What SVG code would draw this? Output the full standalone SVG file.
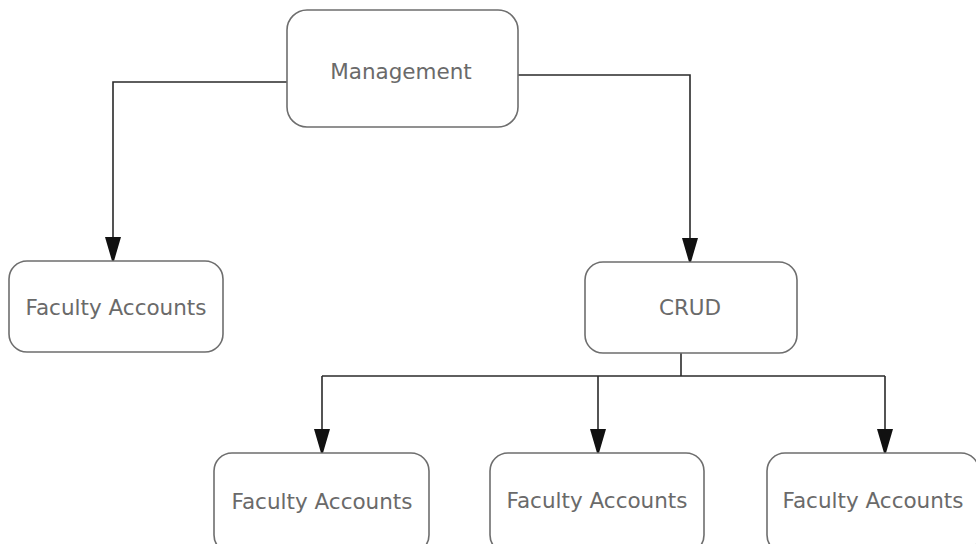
<svg xmlns="http://www.w3.org/2000/svg" width="976" height="544" viewBox="0 0 976 544">
  <defs>
    <style>
      .box { fill: #ffffff; stroke: #6e6e6e; stroke-width: 1.6; }
      .label { font-family: "DejaVu Sans", Verdana, sans-serif; font-size: 21.5px; fill: #6a6a6a; text-anchor: middle; dominant-baseline: central; }
      .wire { fill: none; stroke: #2a2a2a; stroke-width: 1.6; }
    </style>
    <!-- downward-pointing filled arrowhead, slightly blunt tip -->
    <marker id="down" viewBox="0 0 16 24" refX="8" refY="24" markerWidth="16" markerHeight="24" markerUnits="userSpaceOnUse" orient="0">
      <path d="M0,0 L16,0 L9,24 L7,24 Z" fill="#111111"/>
    </marker>
  </defs>
  <rect width="976" height="544" fill="#ffffff"/>

  <!-- connectors -->
  <g id="connectors">
    <path class="wire" d="M287,82 H113 V261" marker-end="url(#down)"/>
    <path class="wire" d="M518,75 H690 V262" marker-end="url(#down)"/>
    <path class="wire" d="M681,353 V376"/>
    <path class="wire" d="M322,376 H885"/>
    <path class="wire" d="M322,376 V453" marker-end="url(#down)"/>
    <path class="wire" d="M598,376 V453" marker-end="url(#down)"/>
    <path class="wire" d="M885,376 V453" marker-end="url(#down)"/>
  </g>

  <!-- nodes -->
  <g id="management">
    <rect class="box" x="287" y="10" width="231" height="117" rx="20"/>
    <text class="label" x="401" y="71">Management</text>
  </g>
  <g id="faculty-accounts-left">
    <rect class="box" x="9" y="261" width="214" height="91" rx="18"/>
    <text class="label" x="116" y="307">Faculty Accounts</text>
  </g>
  <g id="crud">
    <rect class="box" x="585" y="262" width="212" height="91" rx="18"/>
    <text class="label" x="690" y="307">CRUD</text>
  </g>
  <g id="faculty-accounts-1">
    <rect class="box" x="214" y="453" width="215" height="100" rx="18"/>
    <text class="label" x="322" y="501">Faculty Accounts</text>
  </g>
  <g id="faculty-accounts-2">
    <rect class="box" x="490" y="453" width="214" height="100" rx="18"/>
    <text class="label" x="597" y="500">Faculty Accounts</text>
  </g>
  <g id="faculty-accounts-3">
    <rect class="box" x="767" y="453" width="212" height="100" rx="18"/>
    <text class="label" x="873" y="500">Faculty Accounts</text>
  </g>
</svg>
